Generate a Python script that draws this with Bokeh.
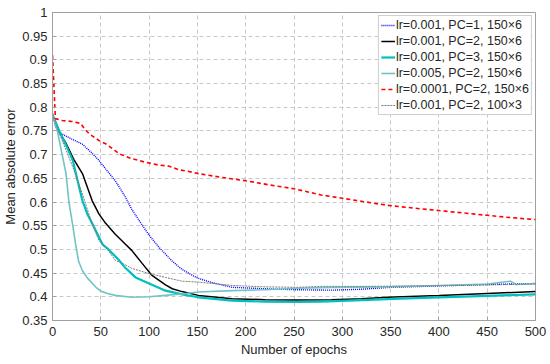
from bokeh.plotting import figure
from bokeh.models import Range1d, FixedTicker, CustomJSTickFormatter, Legend, LegendItem
from bokeh.embed import file_html
from bokeh.resources import INLINE

# ---- data ----
red_x = [0, 3, 10, 20, 29, 33, 38, 48, 55, 62, 69, 80, 96, 110, 120, 131, 140, 151, 175, 200, 225, 250, 278, 300, 325, 347, 375, 400, 425, 450, 475, 500]
red_y = [0.91, 0.776, 0.772, 0.77, 0.766, 0.755, 0.744, 0.73, 0.723, 0.713, 0.702, 0.693, 0.684, 0.678, 0.676, 0.668, 0.665, 0.660, 0.652, 0.645, 0.636, 0.628, 0.615, 0.608, 0.600, 0.593, 0.587, 0.582, 0.577, 0.572, 0.567, 0.563]

blue_x = [0, 3, 7, 15, 25, 31, 40, 48, 55, 65, 75, 82, 90, 100, 110, 117, 124, 134, 145, 151, 165, 186, 220, 250, 289, 320, 350, 400, 450, 500]
blue_y = [0.787, 0.76, 0.747, 0.738, 0.728, 0.722, 0.705, 0.688, 0.67, 0.645, 0.612, 0.585, 0.56, 0.53, 0.505, 0.49, 0.475, 0.458, 0.445, 0.439, 0.43, 0.42, 0.417, 0.415, 0.414, 0.416, 0.42, 0.423, 0.426, 0.428]

black_x = [0, 5, 14, 22, 31, 41, 48, 55, 65, 75, 82, 93, 103, 117, 124, 134, 151, 186, 220, 250, 289, 320, 347, 400, 450, 500]
black_y = [0.785, 0.755, 0.724, 0.69, 0.66, 0.603, 0.575, 0.555, 0.532, 0.512, 0.498, 0.47, 0.445, 0.425, 0.417, 0.411, 0.403, 0.396, 0.394, 0.393, 0.394, 0.396, 0.399, 0.403, 0.407, 0.411]

cyan_x = [0, 7, 14, 21, 26, 31, 36, 41, 52, 58, 69, 75, 86, 100, 117, 134, 151, 186, 220, 254, 278, 320, 360, 400, 450, 500]
cyan_y = [0.785, 0.75, 0.72, 0.688, 0.645, 0.603, 0.575, 0.555, 0.51, 0.5, 0.477, 0.462, 0.441, 0.428, 0.413, 0.405, 0.399, 0.392, 0.39, 0.389, 0.39, 0.393, 0.396, 0.399, 0.402, 0.405]

teal_x = [0, 5, 10, 14, 17, 21, 24, 27, 31, 36, 45, 50, 57, 65, 82, 100, 117, 134, 151, 186, 220, 254, 289, 347, 400, 450, 474, 480, 500]
teal_y = [0.785, 0.75, 0.70, 0.66, 0.60, 0.55, 0.51, 0.475, 0.455, 0.44, 0.42, 0.412, 0.407, 0.403, 0.399, 0.40, 0.403, 0.406, 0.41, 0.413, 0.415, 0.418, 0.42, 0.421, 0.424, 0.427, 0.433, 0.426, 0.428]

gray_x = [0, 7, 14, 21, 31, 40, 48, 57, 65, 75, 82, 100, 117, 134, 151, 186, 220, 254, 278, 320, 380, 450, 500]
gray_y = [0.785, 0.745, 0.71, 0.674, 0.617, 0.56, 0.519, 0.5, 0.477, 0.468, 0.46, 0.449, 0.441, 0.433, 0.431, 0.424, 0.421, 0.42, 0.422, 0.422, 0.423, 0.425, 0.427]

labels = ["lr=0.001, PC=1, 150\u00d76", "lr=0.001, PC=2, 150\u00d76", "lr=0.001, PC=3, 150\u00d76",
          "lr=0.005, PC=2, 150\u00d76", "lr=0.0001, PC=2, 150\u00d76", "lr=0.001, PC=2, 100\u00d73"]

x_ticks = [0, 50, 100, 150, 200, 250, 300, 350, 400, 450, 500]
y_ticks = [0.35, 0.4, 0.45, 0.5, 0.55, 0.6, 0.65, 0.7, 0.75, 0.8, 0.85, 0.9, 0.95, 1.0]

FONT = "Liberation Sans"

p = figure(width=550, height=364, output_backend="svg", toolbar_location=None,
           x_range=Range1d(0, 500), y_range=Range1d(0.35, 1.0),
           min_border_left=50, min_border_right=15, min_border_top=12, min_border_bottom=44)
p.background_fill_color = "white"
p.border_fill_color = "white"
p.outline_line_color = "#a0a0a0"
p.outline_line_width = 1

for ax in (p.xaxis[0], p.yaxis[0]):
    ax.axis_line_color = "#a0a0a0"
    ax.major_tick_line_color = "#a0a0a0"
    ax.major_tick_in = 4
    ax.major_tick_out = 0
    ax.minor_tick_line_color = None
    ax.major_label_text_font = FONT
    ax.major_label_text_font_size = "13px"
    ax.major_label_text_color = "#262626"
    ax.axis_label_text_font = FONT
    ax.axis_label_text_font_size = "13px"
    ax.axis_label_text_font_style = "normal"
    ax.axis_label_text_color = "#262626"

p.xaxis.ticker = FixedTicker(ticks=x_ticks)
p.yaxis.ticker = FixedTicker(ticks=y_ticks)
p.yaxis.formatter = CustomJSTickFormatter(code="return String(parseFloat(tick.toFixed(2)));")
p.xaxis.axis_label = "Number of epochs"
p.yaxis.axis_label = "Mean absolute error"
p.xaxis.major_label_standoff = 6
p.yaxis.major_label_standoff = 5
p.xaxis.axis_label_standoff = 3
p.yaxis.axis_label_standoff = 1

p.grid.grid_line_color = "#c8c8c8"
p.grid.grid_line_dash = "4 3"
p.grid.grid_line_width = 1

r_blue = p.line(blue_x, blue_y, line_color="#0000ff", line_width=1.4, line_dash="1 1")
r_black = p.line(black_x, black_y, line_color="black", line_width=1.5)
r_cyan = p.line(cyan_x, cyan_y, line_color="#00bfbf", line_width=2.2)
r_teal = p.line(teal_x, teal_y, line_color="#72c4c4", line_width=1.6)
r_red = p.line(red_x, red_y, line_color="#ff0000", line_width=1.6, line_dash="4 3")
r_gray = p.line(gray_x, gray_y, line_color="#7a7a7a", line_width=1.0, line_dash="2 1")

items = [LegendItem(label=l, renderers=[r]) for l, r in
         zip(labels, [r_blue, r_black, r_cyan, r_teal, r_red, r_gray])]
legend = Legend(items=items, location="top_right")
legend.margin = 3
legend.padding = 2
legend.spacing = 2
legend.glyph_width = 14
legend.glyph_height = 14
legend.label_height = 14
legend.label_standoff = 1
legend.label_text_font = FONT
legend.label_text_font_size = "12.5px"
legend.label_text_color = "#262626"
legend.border_line_color = "#a0a0a0"
legend.background_fill_alpha = 1.0
p.add_layout(legend)

open("out.html", "w").write(file_html(p, INLINE))
